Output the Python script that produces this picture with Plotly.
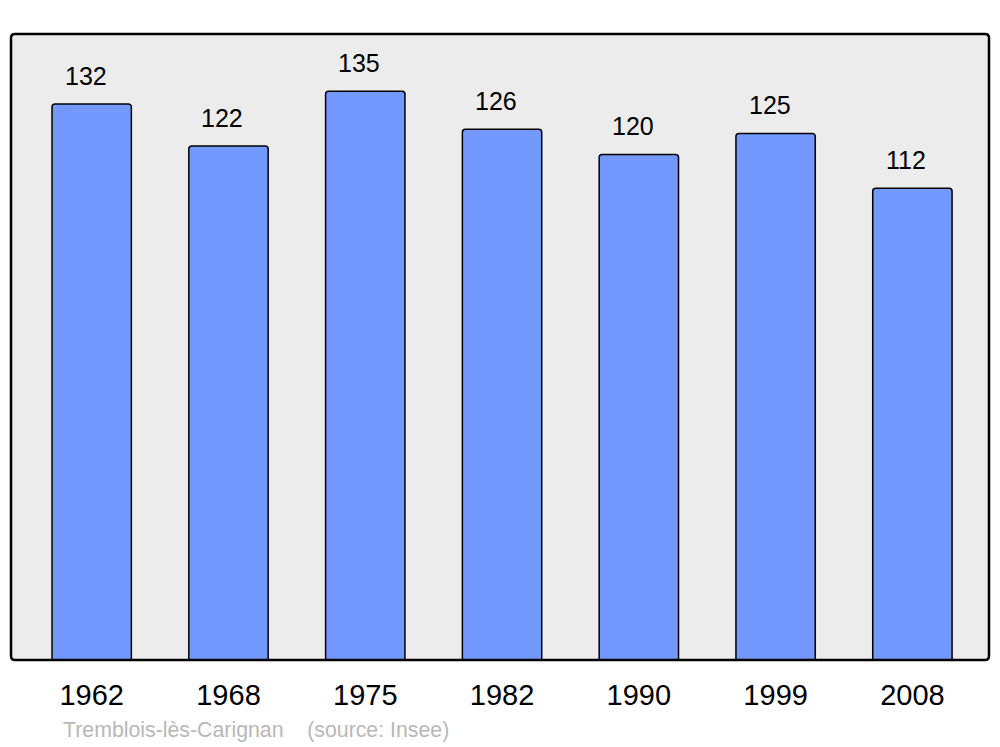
import plotly.graph_objects as go

years = ["1962", "1968", "1975", "1982", "1990", "1999", "2008"]
population = [132, 122, 135, 126, 120, 125, 112]
source_text = "Tremblois-lès-Carignan    (source: Insee)"

W, H = 1000, 747
ml, mr, mt, mb = 11, 11, 34, 87
pw, ph = W - ml - mr, H - mt - mb

fig = go.Figure()
fig.add_trace(go.Bar(
    x=list(range(len(years))), y=population, width=0.58,
    marker=dict(color="#7399ff", line=dict(color="#000000", width=1.5), cornerradius=3),
    hovertext=years, hoverinfo="text+y",
))

for i, v in enumerate(population):
    fig.add_annotation(x=i, y=v, xref="x", yref="y", text=str(v), showarrow=False,
                       yanchor="middle", yshift=28, xshift=-6,
                       font=dict(size=25, color="#000000", family="Liberation Sans, Arial, sans-serif"))

fig.add_annotation(xref="paper", yref="paper", x=(61 - ml) / pw, y=-(730 - (mt + ph)) / ph,
                   xanchor="left", yanchor="middle", text=source_text, showarrow=False,
                   font=dict(size=21.3, color="#b8b8b8", family="Liberation Sans, Arial, sans-serif"))

# rounded frame
rx, ry = 4 / pw, 4 / ph
path = (f"M {rx},0 L {1-rx},0 Q 1,0 1,{ry} L 1,{1-ry} Q 1,1 {1-rx},1 "
        f"L {rx},1 Q 0,1 0,{1-ry} L 0,{ry} Q 0,0 {rx},0 Z")
fig.add_shape(type="path", xref="paper", yref="paper", path=path,
              line=dict(color="#000000", width=2.5), layer="above")

fig.update_layout(
    width=W, height=H,
    margin=dict(l=ml, r=mr, t=mt, b=mb),
    paper_bgcolor="#ffffff", plot_bgcolor="#ececec",
    showlegend=False,
    font=dict(family="Liberation Sans, Arial, sans-serif", color="#000000"),
    xaxis=dict(range=[-0.59, 6.56], showgrid=False, zeroline=False,
               tickmode="array", tickvals=list(range(len(years))), ticktext=years,
               ticks="outside", ticklen=9, tickcolor="rgba(0,0,0,0)",
               tickfont=dict(size=29, color="#000000"), showline=False),
    yaxis=dict(range=[0, 148.6], showgrid=False, zeroline=False, showticklabels=False,
               showline=False),
)

# remove the default 8px page margin so the figure fills the 1000x747 window exactly
fig.write_html("out.html", config={"displayModeBar": False},
               post_script="document.body.style.margin='0';document.body.style.overflow='hidden';")
